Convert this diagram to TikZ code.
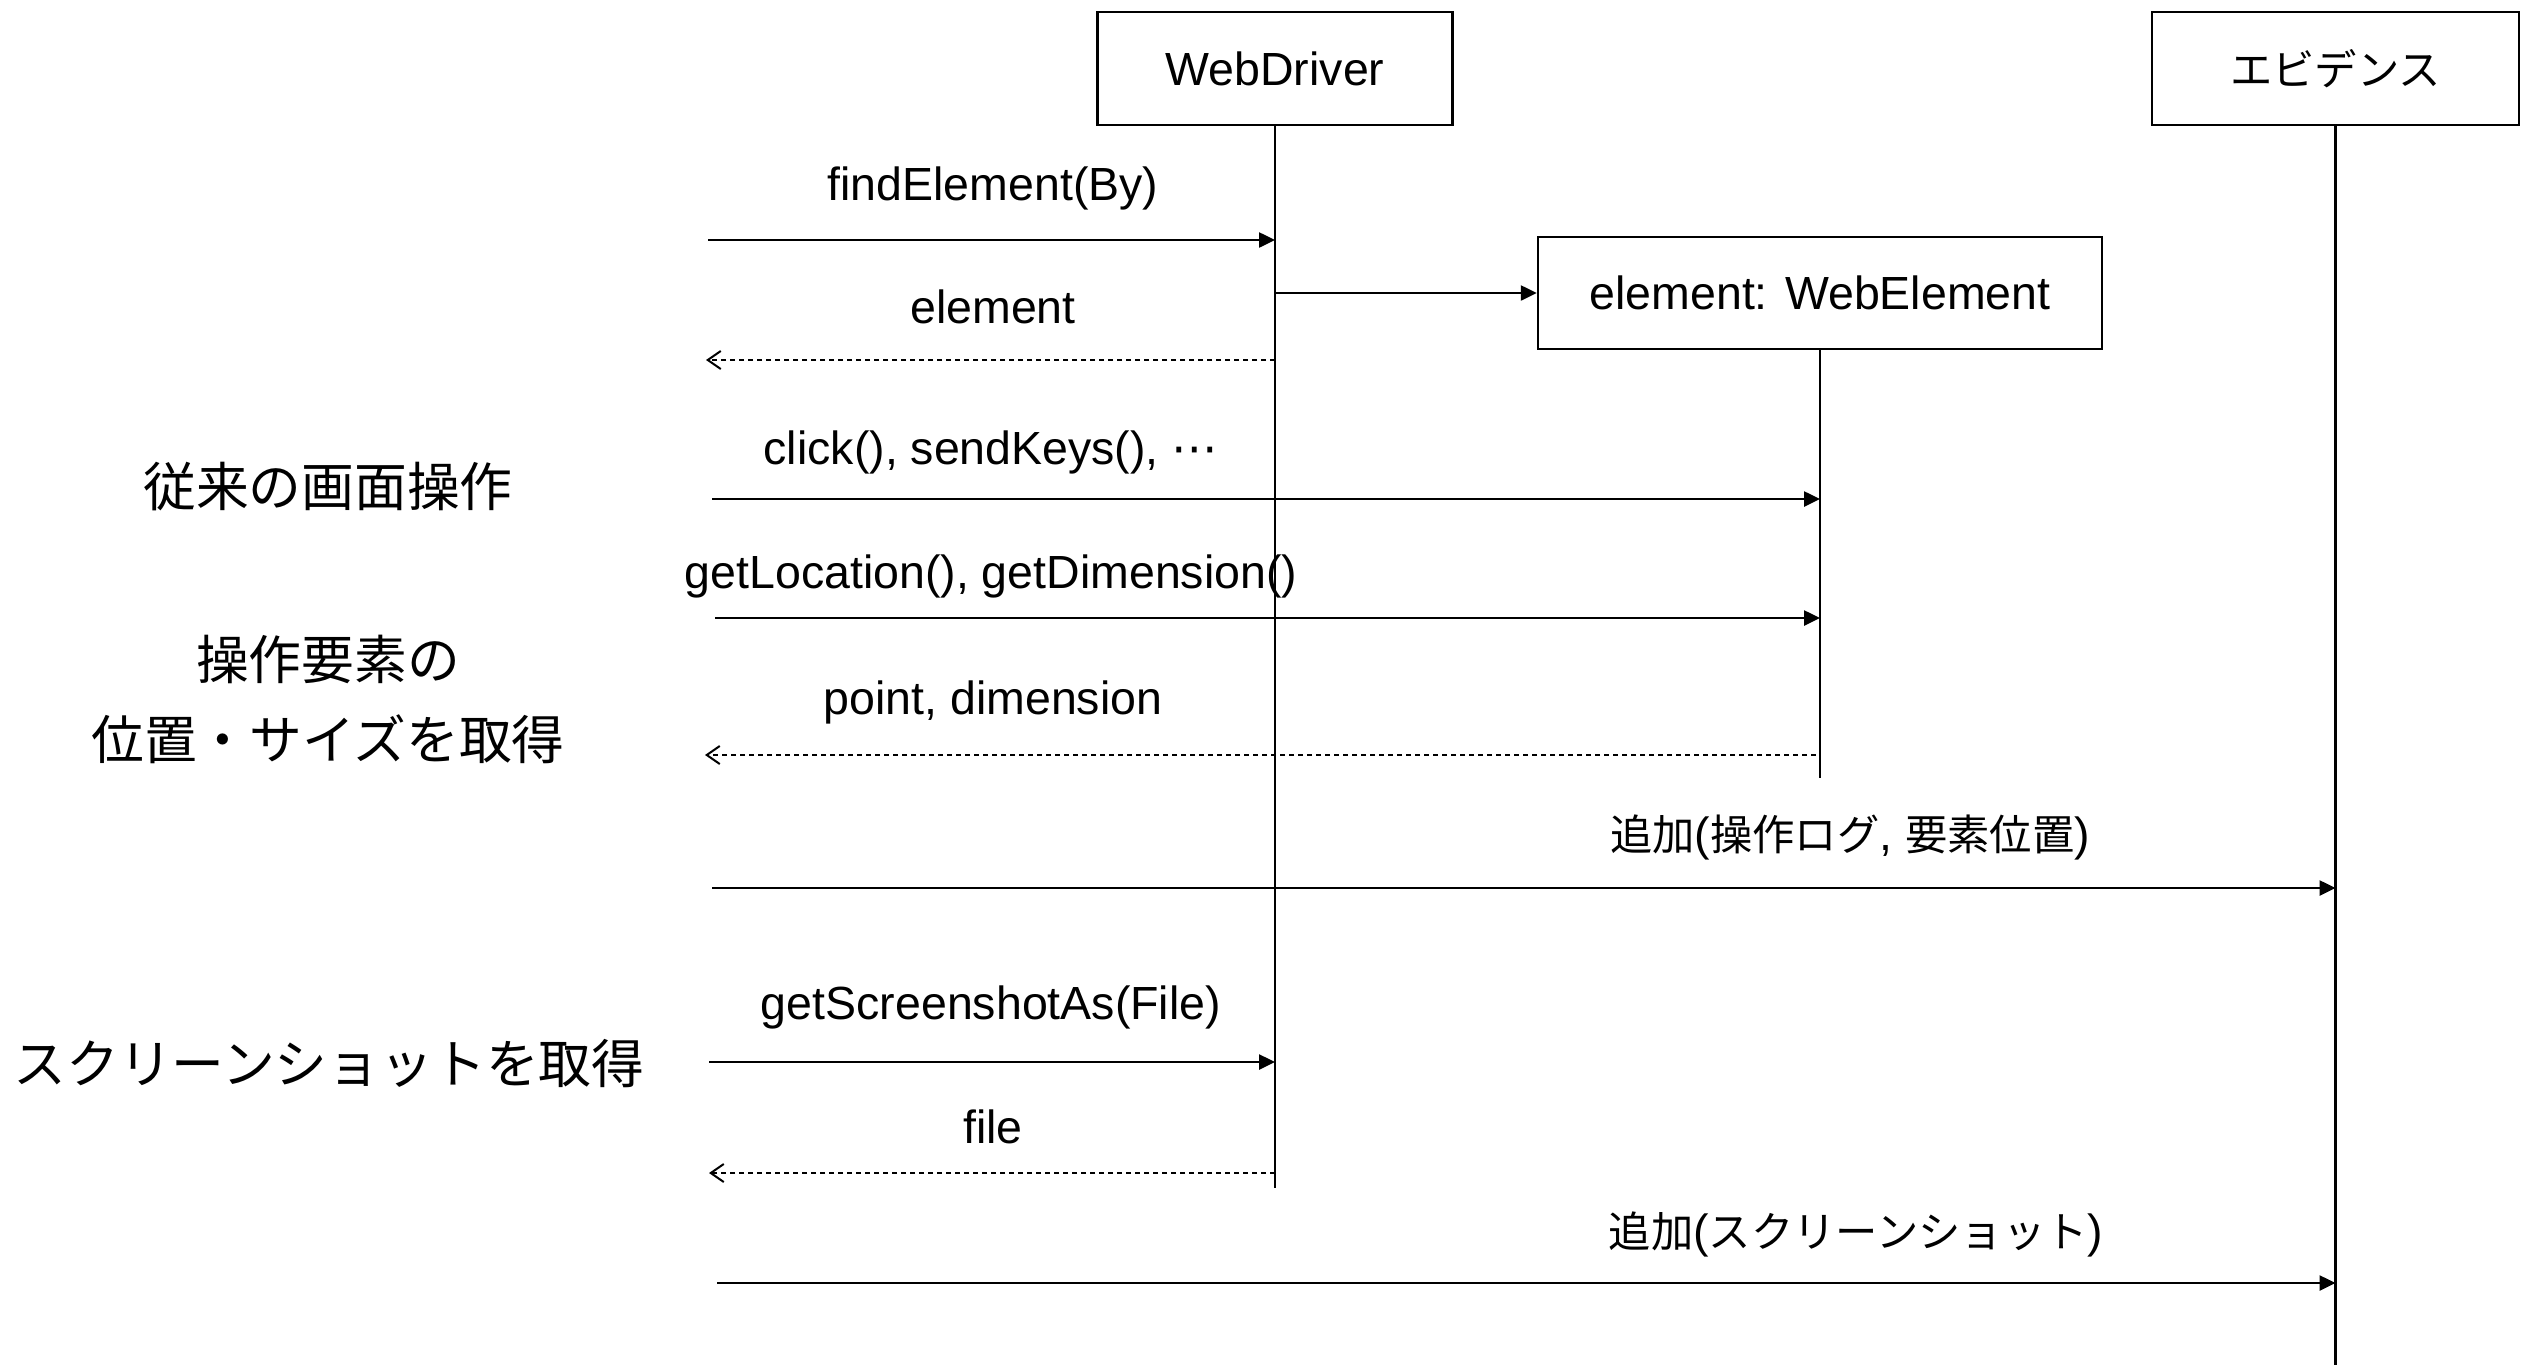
\documentclass[tikz,border=0pt]{standalone}
\usepackage{fontspec}
\setmainfont{Liberation Sans}
\newfontfamily\jpfont[Scale=0.91]{Noto Sans CJK JP}
\newfontfamily\symfont{DejaVu Sans}
\newcommand\J[1]{{\jpfont #1}}
\usetikzlibrary{arrows.meta}

\begin{document}
\begin{tikzpicture}[x=1pt,y=-1pt,
  every node/.style={inner sep=0pt, font=\fontsize{46.5}{55}\selectfont},
  objbox/.style={draw, line width=2.5pt, minimum height=113pt},
  life/.style={line width=2.5pt},
  msg/.style={line width=2.5pt, -{Triangle[length=16pt,width=15pt]}},
  ret/.style={line width=2pt, dash pattern=on 5pt off 4pt, -{Straight Barb[length=13pt,width=18pt,line width=2pt]}},
  side/.style={font=\fontsize{58}{80}\selectfont\jpfont, align=center}]
\useasboundingbox[fill=white] (0,0) rectangle (2531,1365);

% participants
\node[objbox, minimum width=355pt] (wd) at (1275,68.5) {WebDriver};
\node[objbox, minimum width=367pt] (ev) at (2335.5,68.5) {\J{エビデンス}};
\node[objbox, minimum width=564pt, minimum height=112pt] (we) at (1820,293) {element: WebElement};

% lifelines
\coordinate (wdend) at (1275,1188);
\coordinate (weend) at (1820,778);
\coordinate (evend) at (2335.5,1365);
\draw[life] (wd.south) -- (wdend);
\draw[life] (we.south) -- (weend);
\draw[life] (ev.south) -- (evend);

% message ends
\coordinate (a1) at (708,240);
\coordinate (r1) at (706,360);
\coordinate (a2) at (712,499);
\coordinate (a3) at (715,618);
\coordinate (r2) at (705,755);
\coordinate (a4) at (712,888);
\coordinate (a5) at (709,1062);
\coordinate (r3) at (709,1173);
\coordinate (a6) at (717,1283);

% messages
\draw[msg] (a1) -- (a1 -| wd.south);
\draw[msg] (wd.south |- we.west) -- (we.west);
\draw[ret] (r1 -| wd.south) -- (r1);
\draw[msg] (a2) -- (a2 -| we.south);
\draw[msg] (a3) -- (a3 -| we.south);
\draw[ret] ([xshift=-4pt]r2 -| we.south) -- (r2);
\draw[msg] (a4) -- (a4 -| ev.south);
\draw[msg] (a5) -- (a5 -| wd.south);
\draw[ret] (r3 -| wd.south) -- (r3);
\draw[msg] (a6) -- (a6 -| ev.south);

% message labels
\node (l1) at (993,188) {findElement(By)};
\node (l2) at (993,307) {element};
\node (l3) at (991,452) {click(), sendKeys(), {\symfont ⋯}};
\node (l4) at (991,576) {getLocation(), getDimension()};
\node (l5) at (993,702) {point, dimension};
\node (l6) at (1850,837) {\J{追加}(\J{操作ログ}, \J{要素位置})};
\node (l7) at (991,1007) {getScreenshotAs(File)};
\node (l8) at (993,1127) {file};
\node (l9) at (1856,1234) {\J{追加}(\J{スクリーンショット})};

% side labels
\node[side] (s1) at (328,487) {従来の画面操作};
\node[side] (s2) at (328,699) {操作要素の\\位置・サイズを取得};
\node[side] (s3) at (329,1064) {スクリーンショットを取得};
\end{tikzpicture}
\end{document}
